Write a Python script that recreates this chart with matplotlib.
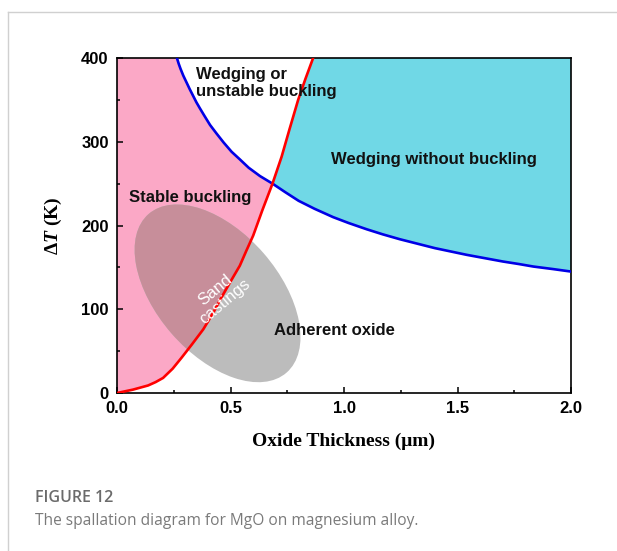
import numpy as np
import matplotlib
matplotlib.use("Agg")
import matplotlib.pyplot as plt
from matplotlib.patches import Polygon, Ellipse
from matplotlib.transforms import Affine2D
from matplotlib.lines import Line2D

plt.rcParams['mathtext.fontset'] = 'custom'
plt.rcParams['mathtext.rm'] = 'Liberation Serif:bold'
plt.rcParams['mathtext.it'] = 'Liberation Serif:bold:italic'

# boundary curves, oxide thickness (um) vs temperature drop (K)
blue_x = [0.264, 0.272, 0.280, 0.292, 0.306, 0.320, 0.335, 0.350, 0.365, 0.385,
          0.41, 0.438, 0.47, 0.505, 0.541, 0.58, 0.63, 0.685, 0.74, 0.80,
          0.87, 0.952, 1.02, 1.10, 1.17, 1.246, 1.32, 1.40, 1.47, 1.54,
          1.62, 1.70, 1.77, 1.834, 1.92, 2.0]
blue_t = [400, 393, 387, 379, 371, 363, 355, 347, 340, 331,
          320, 310, 299, 288, 279, 269, 259, 250, 240, 229.5,
          220, 210, 203, 195.5, 189.5, 183.6, 178.5, 173, 169, 165,
          161, 157, 154, 151, 148, 145]
red_x = [0.0, 0.07, 0.137, 0.17, 0.203, 0.245, 0.284, 0.33, 0.38, 0.42,
         0.46, 0.50, 0.541, 0.57, 0.60, 0.64, 0.685, 0.725, 0.76, 0.798,
         0.83, 0.864]
red_t = [0, 4, 9, 13, 18, 29, 42, 58, 76, 94,
         114, 133, 152, 170, 188, 218, 250, 282, 315, 350,
         375, 400]

# sand castings window: centre, semi-axes (in x units), tilt
ell_center = (0.443, 119)
ell_axes = (0.463, 0.269)
ell_angle = -49

xlim = (0.0, 2.0)
ylim = (0, 400)

fig = plt.figure(figsize=(6.17, 5.51), dpi=100)
ax = fig.add_axes([117 / 617, 1 - 393 / 551, 454 / 617, 335 / 551])
ax.set_xlim(*xlim)
ax.set_ylim(*ylim)

bx, bt = np.array(blue_x), np.array(blue_t)
rx, rt = np.array(red_x), np.array(red_t)
cross = 250

# stable buckling region (left of both curves)
lo = rt <= cross
hi = bt >= cross
pink_pts = np.vstack([
    np.column_stack([rx[lo], rt[lo]]),
    np.column_stack([bx[hi][::-1], bt[hi][::-1]]),
    [[0.0, 400], [0.0, 0]],
])
pink = Polygon(pink_pts, closed=True, facecolor='#FBA8C6', edgecolor='none', zorder=1)
ax.add_patch(pink)

# wedging without buckling (right of red, above blue)
cyan_pts = np.vstack([
    np.column_stack([rx[rt >= cross], rt[rt >= cross]]),
    [[2.0, 400]],
    np.column_stack([bx[bt <= cross][::-1], bt[bt <= cross][::-1]]),
])
cyan = Polygon(cyan_pts, closed=True, facecolor='#70D8E6', edgecolor='none', zorder=1)
ax.add_patch(cyan)

# ellipse drawn in screen-aspect units so the tilt looks right
k = (454 / (xlim[1] - xlim[0])) / (335 / (ylim[1] - ylim[0]))
ell_tr = Affine2D().scale(1, k).translate(*ell_center) + ax.transData
ell = Ellipse((0, 0), 2 * ell_axes[0], 2 * ell_axes[1], angle=ell_angle,
              facecolor='#BCBCBC', edgecolor='none', transform=ell_tr, zorder=2)
ax.add_patch(ell)
ell2 = Ellipse((0, 0), 2 * ell_axes[0], 2 * ell_axes[1], angle=ell_angle,
               facecolor='#C78E9A', edgecolor='none', transform=ell_tr, zorder=2)
ax.add_patch(ell2)
ell2.set_clip_path(pink)

ax.plot(blue_x, blue_t, color='#0000E6', lw=1.9, zorder=3, solid_joinstyle='round')
ax.plot(red_x, red_t, color='#FF0000', lw=1.9, zorder=3, solid_joinstyle='round')

lab = dict(fontsize=12, fontweight='bold', family='Liberation Sans', color='#111111', zorder=4)
ax.text(0.35, 370, 'Wedging or\nunstable buckling', ha='left', va='center', linespacing=1.2, **lab)
ax.text(0.943, 279, 'Wedging without buckling', ha='left', va='center', **lab)
ax.text(0.052, 234, 'Stable buckling', ha='left', va='center', **lab)
ax.text(0.691, 75, 'Adherent oxide', ha='left', va='center', **lab)
ax.text(0.455, 116, 'Sand\ncastings', ha='center', va='center', rotation=40,
        rotation_mode='anchor', fontsize=12, family='Liberation Sans',
        color='white', linespacing=1.05, zorder=4)

ax.set_xticks([0.0, 0.5, 1.0, 1.5, 2.0])
ax.set_xticks([0.25, 0.75, 1.25, 1.75], minor=True)
ax.set_yticks([0, 100, 200, 300, 400])
ax.set_yticks([50, 150, 250, 350], minor=True)
ax.tick_params(which='both', direction='in', width=1.1, labelsize=12)
ax.tick_params(axis='x', pad=6)
ax.tick_params(axis='y', pad=6)
ax.tick_params(which='major', length=4.5)
ax.tick_params(which='minor', length=2.5)
for t in ax.get_xticklabels() + ax.get_yticklabels():
    t.set_fontweight('bold')
    t.set_family('Liberation Sans')
for s in ax.spines.values():
    s.set_linewidth(1.2)

ax.set_xlabel('Oxide Thickness (\u03bcm)', fontsize=14, fontweight='bold',
              family='Liberation Serif', labelpad=12)
ax.set_ylabel(r'$\Delta\mathit{T}$ (K)', fontsize=14, fontweight='bold',
              family='Liberation Serif', labelpad=12)

# caption and frame
fig.text(35 / 617, 1 - 502 / 551, 'FIGURE 12', fontsize=11.5, fontweight='semibold',
         family='Open Sans', color='#6B6B6B', ha='left', va='baseline')
fig.text(35 / 617, 1 - 525 / 551, 'The spallation diagram for MgO on magnesium alloy.',
         fontsize=11.2, family='Open Sans', color='#7A7A7A', ha='left', va='baseline')
fig.add_artist(Line2D([8 / 617, 1.0], [1 - 12 / 551] * 2, color='#D0D0D0', lw=1.0))
fig.add_artist(Line2D([8 / 617] * 2, [0.0, 1 - 12 / 551], color='#D0D0D0', lw=1.0))

fig.savefig('out.png', dpi=100)
